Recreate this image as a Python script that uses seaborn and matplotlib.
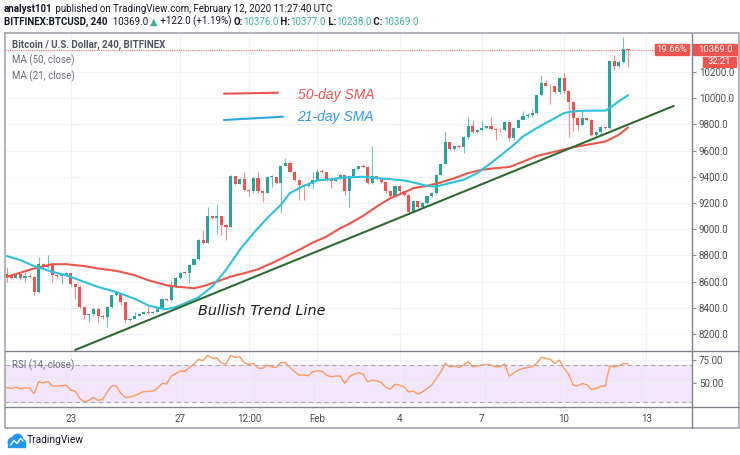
import numpy as np
import pandas as pd
import seaborn as sns
import matplotlib.pyplot as plt
from matplotlib.patches import Rectangle, Circle

# 4h BTCUSD bars, Jan 20 16:00 -> Feb 12 08:00 (x = bar number)
first_open = 8660
closes = [8640, 8630, 8655, 8625, 8640, 8635, 8520, 8738, 8710, 8730,
          8650, 8640, 8650, 8665, 8580, 8562, 8405, 8345, 8355, 8390,
          8340, 8330, 8405, 8495, 8512, 8445, 8305, 8315, 8335, 8350,
          8370, 8360, 8368, 8390, 8470, 8460, 8570, 8625, 8669, 8664,
          8727, 8770, 8918, 8898, 9102, 9084, 9100, 9033, 9020, 9403,
          9347, 9382, 9300, 9288, 9390, 9288, 9280, 9397, 9400, 9350,
          9484, 9505, 9440, 9377, 9340, 9330, 9347, 9372, 9440, 9435,
          9377, 9370, 9390, 9415, 9290, 9403, 9460, 9484, 9478, 9352,
          9403, 9382, 9357, 9288, 9255, 9330, 9288, 9262, 9135, 9212,
          9173, 9199, 9250, 9275, 9415, 9499, 9662, 9612, 9637, 9627,
          9703, 9790, 9740, 9759, 9772, 9785, 9762, 9760, 9754, 9815,
          9700, 9775, 9836, 9862, 9874, 9887, 10028, 10118, 10097, 10090,
          10046, 10156, 10054, 9969, 9849, 9797, 9849, 9830, 9721, 9741,
          9777, 9772, 10285, 10246, 10277, 10376, 10369]
highs = [8710, 8660, 8665, 8660, 8675, 8655, 8640, 8785, 8740, 8800,
         8735, 8655, 8660, 8672, 8668, 8582, 8575, 8410, 8360, 8395,
         8400, 8345, 8410, 8500, 8520, 8515, 8445, 8320, 8367, 8360,
         8378, 8413, 8372, 8395, 8475, 8478, 8610, 8635, 8675, 8680,
         8730, 8775, 8925, 8995, 9173, 9110, 9190, 9100, 9040, 9410,
         9405, 9390, 9440, 9305, 9400, 9440, 9300, 9405, 9410, 9400,
         9490, 9543, 9517, 9445, 9380, 9345, 9355, 9433, 9450, 9460,
         9440, 9380, 9395, 9420, 9415, 9410, 9470, 9490, 9495, 9480,
         9632, 9405, 9385, 9360, 9300, 9335, 9335, 9290, 9270, 9225,
         9215, 9205, 9255, 9285, 9420, 9505, 9747, 9665, 9645, 9640,
         9710, 9856, 9836, 9765, 9831, 9790, 9856, 9775, 9775, 9825,
         9820, 9780, 9845, 9900, 9885, 9918, 10035, 10174, 10138, 10105,
         10095, 10165, 10195, 10060, 9975, 9855, 9900, 9850, 9845, 9750,
         9785, 9782, 10295, 10328, 10290, 10464, 10377]
lows = [8600, 8620, 8625, 8615, 8600, 8625, 8495, 8515, 8700, 8700,
        8600, 8630, 8585, 8640, 8570, 8470, 8400, 8315, 8290, 8340,
        8290, 8315, 8250, 8400, 8490, 8418, 8282, 8300, 8320, 8335,
        8350, 8355, 8350, 8365, 8385, 8450, 8455, 8560, 8620, 8655,
        8587, 8725, 8765, 8890, 8895, 9075, 8960, 8957, 8918, 9015,
        9340, 9345, 9295, 9250, 9280, 9280, 9210, 9275, 9320, 9345,
        9127, 9480, 9435, 9370, 9225, 9225, 9320, 9310, 9365, 9430,
        9370, 9315, 9365, 9385, 9262, 9173, 9400, 9455, 9470, 9345,
        9345, 9375, 9350, 9280, 9240, 9250, 9280, 9250, 9122, 9130,
        9165, 9165, 9195, 9245, 9270, 9410, 9495, 9605, 9605, 9620,
        9581, 9700, 9735, 9735, 9750, 9765, 9755, 9683, 9745, 9750,
        9670, 9680, 9770, 9830, 9850, 9860, 9880, 10020, 10090, 9959,
        10040, 10030, 10040, 9703, 9746, 9759, 9795, 9825, 9715, 9710,
        9735, 9768, 9765, 10215, 10240, 10270, 10238]

# moving averages (bar number, price)
ma21_idx = [0, 3, 6, 10, 13, 17, 20, 24, 28, 31, 34, 35, 37, 39, 42, 45, 48, 51, 54, 57,
            60, 62, 65, 68, 71, 74, 78, 81, 84, 87, 89, 92, 94, 97, 100, 103, 105, 108, 111, 113,
            116, 120, 122, 124, 127, 131, 132, 134, 136]
ma21_val = [8795, 8764, 8718, 8674, 8649, 8597, 8559, 8520, 8469, 8418, 8392, 8390, 8405, 8434, 8480, 8562, 8689, 8842, 8969, 9084,
            9186, 9275, 9331, 9372, 9382, 9395, 9400, 9390, 9382, 9372, 9357, 9331, 9326, 9352, 9377, 9428, 9479, 9560, 9645, 9708,
            9772, 9849, 9887, 9900, 9905, 9905, 9926, 9977, 10023]
ma50_idx = [0, 6, 10, 13, 17, 20, 24, 28, 31, 35, 37, 41, 43, 46, 49, 52, 55, 58, 61, 64,
            67, 70, 73, 75, 78, 81, 84, 87, 89, 92, 95, 98, 101, 104, 107, 110, 113, 116, 120, 124,
            127, 131, 134, 136]
ma50_val = [8636, 8700, 8733, 8733, 8718, 8700, 8682, 8649, 8610, 8572, 8562, 8549, 8565, 8600, 8638, 8664, 8694, 8740, 8791, 8842,
            8898, 8944, 9008, 9041, 9102, 9173, 9237, 9280, 9313, 9331, 9357, 9390, 9428, 9454, 9466, 9475, 9515, 9559, 9592, 9626,
            9644, 9669, 9721, 9777]

# RSI(14)
rsi_idx = list(range(0, 12)) + list(range(13, 137))
rsi_val = [45.6, 44.6, 46.3, 44.2, 45.3, 44.9, 39.2, 51.7, 50.6, 52.1, 47.4, 47.1,
           48.1, 42.8, 41.7, 33.8, 30.2, 32.0, 35.0, 32.0, 32.7, 41.0, 47.4, 47.1, 39.2, 34.9, 35.6,
           36.7, 39.2, 41.3, 41.3, 42.0, 44.6, 50.0, 49.5, 57.8, 60.7, 63.2, 63.0, 67.1, 70.7, 75.7,
           74.5, 80.0, 76.8, 77.2, 72.0, 70.7, 80.0, 77.9, 78.6, 72.2, 70.4, 71.4, 66.4, 66.1, 69.6,
           67.8, 67.1, 72.2, 72.5, 67.1, 62.5, 58.9, 59.0, 58.2, 62.5, 63.5, 63.0, 58.9, 57.1, 57.8,
           58.0, 50.0, 57.1, 60.0, 61.4, 60.0, 51.7, 53.5, 52.8, 51.0, 45.6, 44.0, 49.2, 48.1, 46.0,
           41.0, 42.0, 38.5, 41.0, 44.6, 48.1, 55.3, 62.0, 71.4, 67.8, 68.6, 67.1, 69.6, 73.2, 67.8,
           68.6, 69.6, 70.4, 69.6, 67.8, 68.0, 70.7, 57.8, 61.4, 64.3, 66.1, 67.0, 67.8, 71.4, 77.9,
           76.8, 75.7, 71.4, 75.0, 66.1, 60.0, 48.1, 47.5, 50.0, 48.5, 43.5, 44.6, 47.1, 47.1, 68.6,
           67.8, 68.6, 71.4, 70.7]

# hand drawn trend line (bar number, price)
trend_idx = [15, 146]
trend_val = [8078, 9941]

tick_pos = [14, 38, 53, 68, 86, 104, 122, 140]
tick_labels = ['23', '27', '12:00', 'Feb', '4', '7', '10', '13']
price_ticks = list(range(8200, 10201, 200))

UP, DOWN = '#26a69a', '#ef5350'
TXT = '#131722'
GRID = '#eef1f6'

sns.set_theme(style='white')
plt.rcParams['font.family'] = ['Roboto', 'DejaVu Sans']

W, H = 740, 455
fig = plt.figure(figsize=(W / 100, H / 100), dpi=100)


def box(x0, y0, x1, y1):
    return [x0 / W, 1 - y1 / H, (x1 - x0) / W, (y1 - y0) / H]


ax = fig.add_axes(box(5, 33, 692, 351))
ax_rsi = fig.add_axes(box(5, 351, 692, 407), sharex=ax)

# candles
df = pd.DataFrame({'close': closes, 'high': highs, 'low': lows})
df['open'] = [first_open] + closes[:-1]
df['i'] = np.arange(len(df))
df['color'] = np.where(df['close'] >= df['open'], UP, DOWN)
ax.vlines(df['i'], df['low'], df['high'], colors=df['color'], linewidth=0.8, alpha=0.65, zorder=2)
ax.bar(df['i'], (df['close'] - df['open']).abs().clip(lower=7),
       bottom=df[['open', 'close']].min(axis=1), width=0.68,
       color=df['color'], linewidth=0, zorder=3)

sns.lineplot(x=ma50_idx, y=ma50_val, ax=ax, color='#f0554a', linewidth=1.5, estimator=None, zorder=4)
sns.lineplot(x=ma21_idx, y=ma21_val, ax=ax, color='#2ec1de', linewidth=1.5, estimator=None, zorder=4)
sns.lineplot(x=trend_idx, y=trend_val, ax=ax, color='#2f6b30', linewidth=1.5, estimator=None, zorder=5)
ax.axhline(closes[-1], color=DOWN, linestyle=(0, (1, 1)), linewidth=0.8, alpha=0.8, zorder=1)

ax.set_xlim(-0.37, 150)
ax.set_ylim(8070, 10498)
ax.set_yticks(price_ticks)
ax.set_yticklabels([f'{p:.1f}' for p in price_ticks])
ax.yaxis.tick_right()
ax.set_xticks(tick_pos)
ax.grid(True, color=GRID, linewidth=0.8)
ax.tick_params(axis='x', length=0, labelbottom=False)
ax.tick_params(axis='y', right=True, length=3, width=0.8, color='#8a8e97',
               labelsize=7, labelcolor='#4a4a4a', pad=2)

# RSI pane
ax_rsi.axhspan(30, 70, color='#f3e6fc', zorder=0)
sns.lineplot(x=rsi_idx, y=rsi_val, ax=ax_rsi, color='#ff9a5a', linewidth=1, estimator=None)
for lvl in (70, 30):
    ax_rsi.axhline(lvl, color='#aaaaaa', linestyle=(0, (4, 3)), linewidth=0.8)
ax_rsi.set_ylim(24.8, 84.7)
ax_rsi.set_yticks([50, 75])
ax_rsi.set_yticklabels(['50.00', '75.00'])
ax_rsi.yaxis.tick_right()
ax_rsi.set_xticks(tick_pos)
ax_rsi.set_xticklabels(tick_labels)
ax_rsi.grid(True, color=GRID, linewidth=0.8)
ax_rsi.tick_params(axis='x', length=0, pad=5, labelsize=7, labelcolor='#4a4a4a')
ax_rsi.tick_params(axis='y', right=True, length=3, width=0.8, color='#8a8e97',
                   labelsize=7, labelcolor='#4a4a4a', pad=2)

for a in (ax, ax_rsi):
    a.set_xlabel('')
    a.set_ylabel('')
    for s in a.spines.values():
        s.set_visible(False)

# overlay in pixel coords for frame, header and drawings
ov = fig.add_axes([0, 0, 1, 1], zorder=5)
ov.set_xlim(0, W)
ov.set_ylim(H, 0)
ov.axis('off')
ov.patch.set_alpha(0)

ov.plot([5, 739, 739, 5, 5], [33, 33, 428, 428, 33], color='#a3a6af', linewidth=1.2)
ov.plot([692, 692], [33, 428], color='#7f828a', linewidth=1)
ov.plot([5, 739], [351, 351], color='#7f828a', linewidth=1)
ov.plot([5, 739], [407, 407], color='#7f828a', linewidth=1)

# header
hs = 7.05
t = ov.text(4, 9, 'analyst101', fontsize=hs, weight='bold', color=TXT, va='center')
ov.annotate(' published on TradingView.com, February 12, 2020 11:27:40 UTC', xy=(1, 0),
            xycoords=t, va='bottom', fontsize=hs, color=TXT)

teal = '#3fb0a4'
parts = [('BITFINEX:BTCUSD, 240', 'bold', TXT), ('  10369.0 ', 'normal', TXT),
         ('\u25b2', 'normal', teal), (' +122.0 (+1.19%) ', 'normal', TXT),
         ('O:', 'bold', TXT), ('10376.0', 'normal', teal), (' H:', 'bold', TXT),
         ('10377.0', 'normal', teal), (' L:', 'bold', TXT), ('10238.0', 'normal', teal),
         (' C:', 'bold', TXT), ('10369.0', 'normal', teal)]
prev = None
for txt, wt, col in parts:
    if prev is None:
        prev = ov.text(4, 22, txt, fontsize=hs, weight=wt, color=col, va='center')
    else:
        prev = ov.annotate(txt, xy=(1, 0), xycoords=prev, va='bottom', fontsize=hs,
                           weight=wt, color=col)

# pane legends
ov.text(12, 45, 'Bitcoin / U.S. Dollar, 240, BITFINEX', fontsize=7, weight='semibold',
        color='#50535e', va='center')
ov.text(12, 60, 'MA (50, close)', fontsize=7, color='#6a6d78', va='center')
ov.text(12, 76, 'MA (21, close)', fontsize=7, color='#6a6d78', va='center')
ov.text(11.5, 365, 'RSI (14, close)', fontsize=7, color='#6a6d78', va='center')

# user drawings
ov.plot([224, 278], [93.7, 92.7], color='#ef5350', linewidth=1.5)
ov.text(297.5, 95, '50-day SMA', color='#ef5350', fontsize=10, style='italic',
        family='Liberation Sans', va='center')
ov.plot([224, 283], [120, 116.7], color='#2aa8e0', linewidth=1.5)
ov.text(297, 117, '21-day SMA', color='#2f9be8', fontsize=10, style='italic',
        family='Liberation Sans', va='center')
ov.text(198, 311, 'Bullish Trend Line', color='#1e1e1e', fontsize=10.4, style='italic',
        family='DejaVu Sans', va='center')

# price scale labels
ov.add_patch(Rectangle((655, 43.5), 34, 11.5, color=DOWN))
ov.text(672, 49.3, '19.66%', color='white', fontsize=6.8, ha='center', va='center')
ov.add_patch(Rectangle((693, 43.5), 44, 11.5, color=DOWN))
ov.text(715, 49.3, '10369.0', color='white', fontsize=6.8, ha='center', va='center')
ov.add_patch(Rectangle((703, 56.5), 33, 10.5, color=DOWN))
ov.text(719.5, 61.8, '32:21', color='white', fontsize=6.8, ha='center', va='center')

# logo
for cx, cy, r in [(12.5, 442, 4.2), (17.5, 439.5, 5.2), (22, 443, 3.5)]:
    ov.add_patch(Circle((cx, cy), r, color='#2196f3'))
ov.add_patch(Rectangle((8.3, 442), 17, 4.5, color='#2196f3'))
ov.plot([10.5, 14, 17, 20.5, 23], [445, 440.5, 443.5, 438.5, 441], color='white', linewidth=1)
ov.text(27, 440, 'TradingView', fontsize=7.4, color=TXT, va='center')

fig.savefig('out.png', dpi=100, facecolor='white')
